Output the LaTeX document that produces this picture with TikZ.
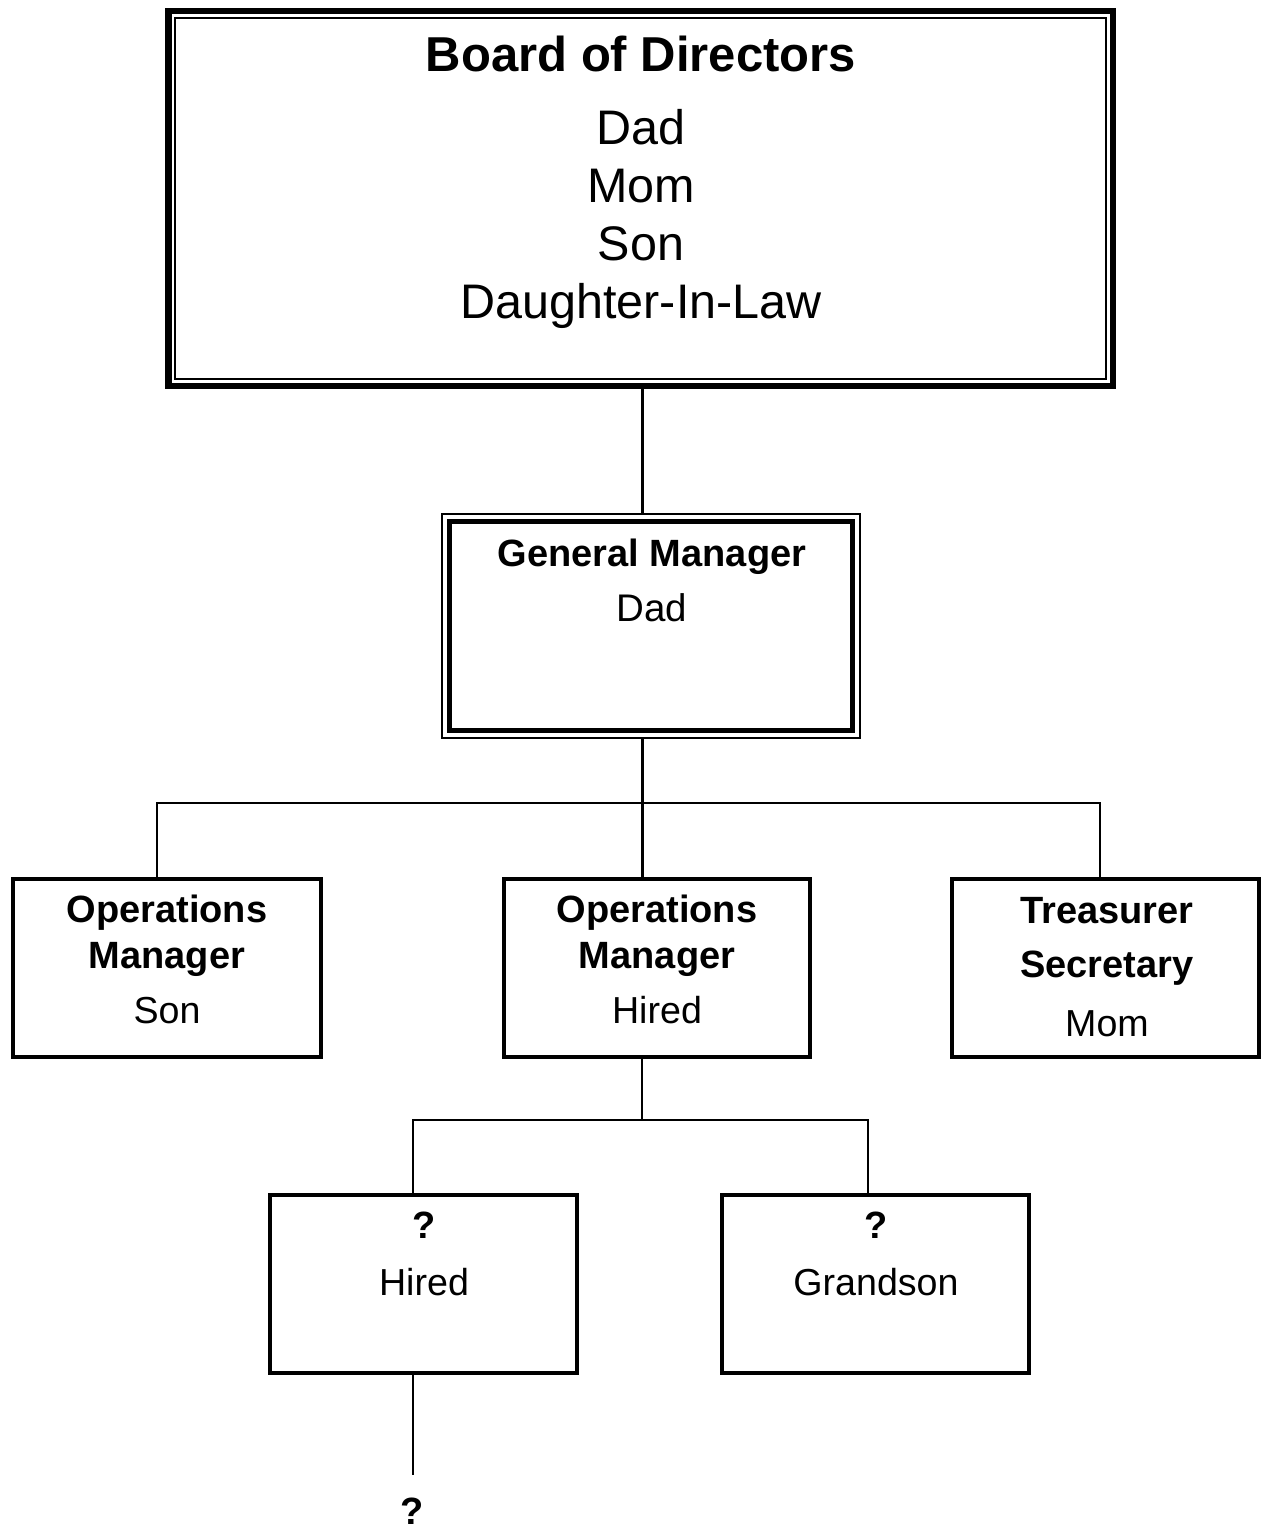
\documentclass[tikz,border=0pt]{standalone}
\usepackage{fontspec}
\setmainfont{Liberation Sans}
\tikzset{
  thickframe/.style={draw, line width=6.5pt, inner sep=0pt},
  thinframe/.style={draw, line width=2.2pt, inner sep=0pt},
  box/.style={draw, line width=4pt, inner sep=0pt, minimum width=307pt, minimum height=178pt},
  wire/.style={line width=2.5pt},
  txt/.style={anchor=base, inner sep=0pt},
  boardhead/.style={txt, font=\fontsize{49}{58}\selectfont\bfseries},
  boardname/.style={txt, font=\fontsize{48.5}{58}\selectfont},
  gmhead/.style={txt, font=\fontsize{38}{44}\selectfont\bfseries},
  gmname/.style={txt, font=\fontsize{38.5}{44}\selectfont},
  roletext/.style={txt, font=\fontsize{38}{44}\selectfont\bfseries},
  persontext/.style={txt, font=\fontsize{37.6}{44}\selectfont}
}
\begin{document}
\begin{tikzpicture}[x=1pt,y=-1pt]
\useasboundingbox (0,0) rectangle (1262,1530);

% Board of Directors: heavy outer frame with a thin inner rule
\node[thickframe, minimum width=944.5pt, minimum height=374.5pt] (board) at (640.5,198.5) {};
\node[thinframe, minimum width=931pt, minimum height=361pt] (boardin) at (board.center) {};
\node[boardhead] (tBoard) at (641,72) {Board of Directors};
\node[boardname] (tB1) at (641,145) {Dad};
\node[boardname] (tB2) at (641,203) {Mom};
\node[boardname] (tB3) at (641,261) {Son};
\node[boardname] (tB4) at (641,318) {Daughter-In-Law};

% General Manager: thin outer rule with a heavy inner frame
\node[thinframe, minimum width=418pt, minimum height=224pt] (gm) at (651,626) {};
\node[thickframe, line width=5.5pt, minimum width=403pt, minimum height=209pt] (gmin) at (gm.center) {};
\node[gmhead] (tGM) at (652,566) {General Manager};
\node[gmname] (tGM1) at (652,621) {Dad};

% Second level
\node[box, minimum width=308pt] (ops1) at (167,967.5) {};
\node[roletext] (tO1a) at (167,922) {Operations};
\node[roletext] (tO1b) at (167,968) {Manager};
\node[persontext] (tO1c) at (167,1023) {Son};

\node[box, minimum width=306pt] (ops2) at (657,967.5) {};
\node[roletext] (tO2a) at (657,922) {Operations};
\node[roletext] (tO2b) at (657,968) {Manager};
\node[persontext] (tO2c) at (657,1023) {Hired};

\node[box] (treas) at (1105.5,967.5) {};
\node[roletext] (tT1) at (1107,923) {Treasurer};
\node[roletext] (tT2) at (1107,977) {Secretary};
\node[persontext] (tT3) at (1107,1036) {Mom};

% Third level
\node[box] (q1) at (423.5,1284) {};
\node[roletext] (tQ1a) at (424,1238) {?};
\node[persontext] (tQ1b) at (424,1295) {Hired};

\node[box] (q2) at (875.5,1284) {};
\node[roletext] (tQ2a) at (876,1238) {?};
\node[persontext] (tQ2b) at (876,1295) {Grandson};

% Connectors
\coordinate (b1) at (642.5,803);
\coordinate (l1) at (157,803);
\coordinate (r1) at (1100,803);
\coordinate (b2) at (642,1120);
\coordinate (l2) at (413,1120);
\coordinate (r2) at (868,1120);
\coordinate (tail) at (413,1475);

\draw[wire] (board.south -| b1) -- (gm.north -| b1);
\draw[wire] (gm.south -| b1) -- (ops2.north -| b1);
\draw[wire] (ops1.north -| l1) -- (l1) -- (r1) -- (treas.north -| r1);
\draw[wire] (ops2.south -| b2) -- (b2);
\draw[wire] (q1.north -| l2) -- (l2) -- (r2) -- (q2.north -| r2);
\draw[wire] (q1.south -| tail) -- (tail);
\node[roletext] (tEnd) at (412,1524) {?};
\end{tikzpicture}
\end{document}
